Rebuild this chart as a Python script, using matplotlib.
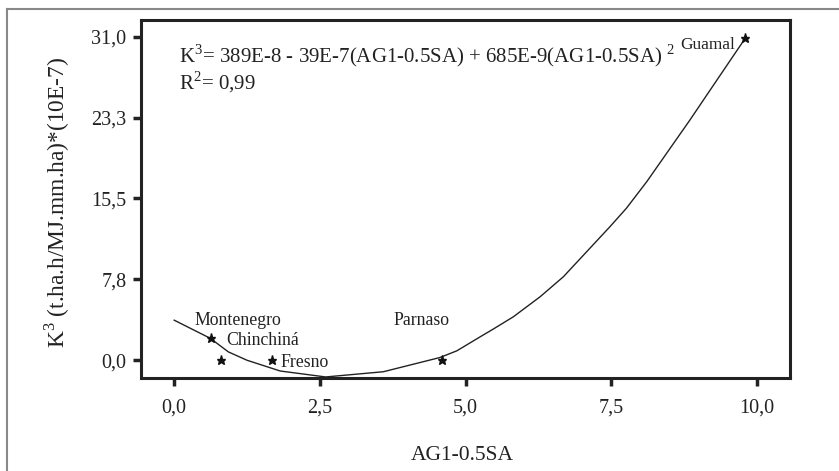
import matplotlib
matplotlib.use("Agg")
import matplotlib.pyplot as plt
from matplotlib.lines import Line2D

plt.rcParams['font.family'] = ['Liberation Serif', 'DejaVu Serif']
plt.rcParams['mathtext.fontset'] = 'custom'
plt.rcParams['mathtext.rm'] = 'Liberation Serif'

# observed points
sites = ["Montenegro", "Chinchiná", "Fresno", "Parnaso", "Guamal"]
site_x = [0.63, 0.81, 1.68, 4.59, 9.80]
site_y = [2.1, 0.0, 0.0, 0.0, 30.9]

# fitted curve
curve_x = [0.0, 0.62, 0.93, 1.25, 1.82, 2.6, 3.59, 4.56, 4.85, 5.25, 5.48, 5.82,
           6.28, 6.68, 7.08, 7.48, 7.76, 8.11, 8.85, 9.31, 9.82]
curve_y = [3.84, 2.1, 0.8, 0.0, -1.03, -1.6, -1.1, 0.26, 0.9, 2.24, 3.0, 4.16,
           6.08, 8.0, 10.4, 12.8, 14.55, 17.1, 23.0, 26.8, 31.0]

xticks = [0.0, 2.5, 5.0, 7.5, 10.0]
xtick_labels = ["0,0", "2,5", "5,0", "7,5", "10,0"]
yticks = [0.0, 7.75, 15.5, 23.25, 31.0]
ytick_labels = ["0,0", "7,8", "15,5", "23,3", "31,0"]

W, H = 839, 471
fig = plt.figure(figsize=(W / 100, H / 100), dpi=100)
ax = fig.add_axes([141 / W, 1 - 378 / H, (790 - 141) / W, (378 - 20) / H])

ax.plot(curve_x, curve_y, color='#222222', lw=1.0)
ax.plot(site_x, site_y, linestyle='none', marker='*', ms=6.5, color='#111111')

ax.set_xlim(-0.57, 10.57)
ax.set_ylim(-1.7, 32.6)
ax.set_xticks(xticks)
ax.set_xticklabels(xtick_labels)
ax.set_yticks(yticks)
ax.set_yticklabels(ytick_labels)
ax.tick_params(direction='out', length=6, width=2.5, color='#222222',
               labelsize=14.5, labelcolor='#222222')
ax.tick_params(axis='x', pad=9)
ax.tick_params(axis='y', pad=4.5)
for s in ax.spines.values():
    s.set_linewidth(2.2)
    s.set_color('#222222')

lab_kw = dict(fontsize=12.8, color='#222222')
ax.text(1.1, 3.84, "Montenegro", ha='center', va='center', **lab_kw)
ax.text(0.9, 1.85, "Chinchiná", ha='left', va='center', **lab_kw)
ax.text(1.82, -0.2, "Fresno", ha='left', va='center', **lab_kw)
ax.text(4.25, 3.84, "Parnaso", ha='center', va='center', **lab_kw)
ax.text(9.62, 30.2, "Guamal", ha='right', va='center', fontsize=12.4, color='#222222')

eq_kw = dict(fontsize=15, color='#222222', ha='left', va='center')
ax.text(0.09, 29.2, r"K$^{3}$= 389E-8 - 39E-7(AG1-0.5SA) + 685E-9(AG1-0.5SA) $^{2}$", **eq_kw)
ax.text(0.09, 26.65, r"R$^{2}$= 0,99", **eq_kw)

fig.text(57 / W, 1 - 202 / H, r"K$^{3}$ (t.ha.h/MJ.mm.ha)*(10E-7)", rotation=90,
         ha='center', va='center', fontsize=16.8, color='#222222')
fig.text(462 / W, 1 - 455 / H, "AG1-0.5SA", ha='center', va='center',
         fontsize=15.5, color='#222222')

# outer frame (left and top only)
fig.add_artist(Line2D([7 / W, 7 / W], [0, 1 - 9 / H], transform=fig.transFigure,
                      color='#888888', lw=1.5))
fig.add_artist(Line2D([7 / W, 1], [1 - 9 / H, 1 - 9 / H], transform=fig.transFigure,
                      color='#888888', lw=1.5))

fig.savefig("out.png", dpi=100)
